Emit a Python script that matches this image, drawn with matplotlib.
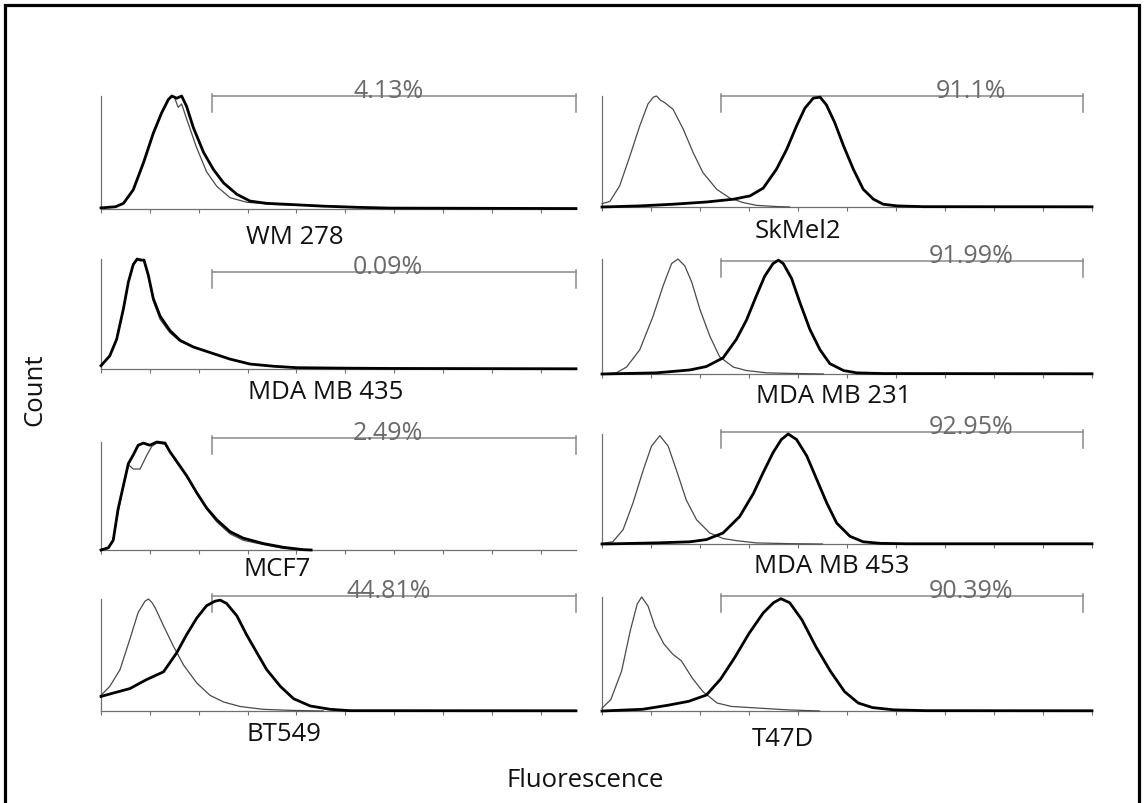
import matplotlib
matplotlib.use("Agg")
import matplotlib.pyplot as plt
from matplotlib.patches import Rectangle

plt.rcParams['font.family'] = ['Open Sans', 'DejaVu Sans']

W, H = 1144, 804

# cell lines, gate percentages
lines_left = ["WM 278", "MDA MB 435", "MCF7", "BT549"]
lines_right = ["SkMel2", "MDA MB 231", "MDA MB 453", "T47D"]
pct_left = ["4.13%", "0.09%", "2.49%", "44.81%"]
pct_right = ["91.1%", "91.99%", "92.95%", "90.39%"]

# histograms: fluorescence (decade ticks) vs normalised count
# thin = isotype control, thick = stained
wm278_x_ctrl = [0, 0.30, 0.46, 0.66, 0.87, 1.07, 1.24, 1.38, 1.45, 1.50, 1.58, 1.65, 1.75, 1.95, 2.16, 2.37, 2.64, 2.98, 3.53, 4.55, 5.24, 5.92, 9.72]
wm278_ctrl = [0.01, 0.02, 0.05, 0.17, 0.42, 0.68, 0.86, 0.97, 0.99, 0.99, 0.90, 0.93, 0.80, 0.55, 0.33, 0.20, 0.10, 0.06, 0.04, 0.03, 0.015, 0.008, 0.004]
wm278_x_stain = [0, 0.30, 0.46, 0.66, 0.87, 1.07, 1.24, 1.38, 1.45, 1.55, 1.65, 1.75, 1.89, 2.10, 2.30, 2.51, 2.78, 3.05, 3.39, 3.87, 4.55, 5.24, 5.92, 9.72]
wm278_stain = [0.01, 0.02, 0.05, 0.17, 0.41, 0.67, 0.85, 0.97, 1.0, 0.98, 1.0, 0.91, 0.72, 0.50, 0.35, 0.23, 0.13, 0.07, 0.05, 0.04, 0.025, 0.015, 0.008, 0.004]

mb435_x = [0, 0.18, 0.32, 0.46, 0.56, 0.66, 0.74, 0.81, 0.88, 0.97, 1.07, 1.21, 1.41, 1.62, 1.89, 2.23, 2.64, 3.05, 3.53, 4.01, 4.89, 5.92, 9.72]
mb435_ctrl = [0.03, 0.12, 0.27, 0.55, 0.79, 0.95, 0.99, 1.0, 0.98, 0.84, 0.62, 0.45, 0.33, 0.25, 0.20, 0.15, 0.09, 0.045, 0.025, 0.012, 0.008, 0.005, 0.002]
mb435_stain = [0.03, 0.12, 0.27, 0.55, 0.79, 0.95, 1.0, 0.99, 0.99, 0.85, 0.64, 0.48, 0.35, 0.26, 0.20, 0.15, 0.09, 0.045, 0.025, 0.012, 0.008, 0.005, 0.002]

mcf7_x_ctrl = [0, 0.15, 0.25, 0.35, 0.46, 0.56, 0.66, 0.80, 0.94, 1.04, 1.14, 1.31, 1.41, 1.55, 1.75, 1.96, 2.16, 2.37, 2.64, 2.91, 3.32, 3.73, 4.14]
mcf7_ctrl = [0, 0.02, 0.09, 0.35, 0.60, 0.79, 0.75, 0.75, 0.88, 0.96, 0.99, 0.98, 0.91, 0.81, 0.68, 0.52, 0.38, 0.26, 0.15, 0.09, 0.05, 0.015, 0]
mcf7_x_stain = [0, 0.15, 0.25, 0.35, 0.46, 0.56, 0.66, 0.76, 0.87, 1.00, 1.14, 1.31, 1.41, 1.55, 1.75, 1.96, 2.16, 2.37, 2.64, 2.91, 3.32, 3.73, 4.14, 4.30]
mcf7_stain = [0, 0.02, 0.09, 0.38, 0.60, 0.80, 0.88, 0.97, 0.99, 0.97, 1.0, 0.99, 0.91, 0.82, 0.69, 0.53, 0.39, 0.28, 0.17, 0.11, 0.06, 0.025, 0.003, 0]

bt549_x_ctrl = [0, 0.18, 0.39, 0.59, 0.76, 0.90, 0.97, 1.04, 1.11, 1.28, 1.48, 1.69, 1.96, 2.23, 2.51, 2.85, 3.32, 3.87, 4.55]
bt549_ctrl = [0.14, 0.22, 0.37, 0.64, 0.88, 0.98, 1.0, 0.97, 0.92, 0.76, 0.58, 0.41, 0.25, 0.14, 0.08, 0.04, 0.015, 0.006, 0]
bt549_x_stain = [0, 0.25, 0.59, 0.93, 1.28, 1.55, 1.75, 1.96, 2.16, 2.33, 2.44, 2.57, 2.78, 2.98, 3.19, 3.39, 3.67, 3.94, 4.28, 4.69, 5.10, 9.72]
bt549_stain = [0.13, 0.16, 0.20, 0.28, 0.35, 0.52, 0.68, 0.83, 0.94, 0.98, 0.99, 0.96, 0.85, 0.68, 0.52, 0.37, 0.22, 0.11, 0.045, 0.015, 0.003, 0.002]

skmel2_x_ctrl = [0, 0.16, 0.36, 0.57, 0.77, 0.94, 1.05, 1.11, 1.20, 1.28, 1.45, 1.66, 1.86, 2.06, 2.34, 2.61, 2.88, 3.15, 3.56, 3.83]
skmel2_ctrl = [0.03, 0.05, 0.19, 0.46, 0.73, 0.93, 0.99, 1.0, 0.96, 0.94, 0.88, 0.70, 0.49, 0.31, 0.16, 0.08, 0.04, 0.015, 0.004, 0]
skmel2_x_stain = [0, 0.77, 1.45, 2.13, 2.68, 3.02, 3.29, 3.56, 3.77, 3.97, 4.14, 4.31, 4.45, 4.58, 4.75, 4.93, 5.13, 5.33, 5.54, 5.74, 6.02, 6.56, 10]
skmel2_stain = [0, 0.01, 0.025, 0.045, 0.07, 0.10, 0.17, 0.34, 0.52, 0.73, 0.89, 0.98, 0.99, 0.92, 0.76, 0.55, 0.34, 0.16, 0.07, 0.025, 0.01, 0.003, 0.002]

mb231_x_ctrl = [0, 0.29, 0.50, 0.77, 1.04, 1.25, 1.42, 1.55, 1.69, 1.83, 2.00, 2.20, 2.40, 2.68, 2.95, 3.36, 3.84, 4.52]
mb231_ctrl = [0, 0.01, 0.06, 0.21, 0.50, 0.77, 0.96, 1.0, 0.94, 0.80, 0.56, 0.33, 0.15, 0.06, 0.03, 0.01, 0.005, 0]
mb231_x_stain = [0, 1.11, 1.79, 2.13, 2.47, 2.74, 2.95, 3.15, 3.32, 3.49, 3.60, 3.70, 3.87, 4.04, 4.24, 4.45, 4.65, 4.93, 5.20, 5.74, 10]
mb231_stain = [0, 0.01, 0.035, 0.065, 0.14, 0.30, 0.47, 0.68, 0.85, 0.96, 0.99, 0.96, 0.83, 0.62, 0.39, 0.21, 0.09, 0.03, 0.01, 0.004, 0.002]

mb453_x_ctrl = [0, 0.22, 0.43, 0.63, 0.84, 1.01, 1.18, 1.35, 1.52, 1.72, 1.93, 2.20, 2.47, 2.75, 3.15, 3.84, 4.50]
mb453_ctrl = [0.005, 0.02, 0.13, 0.37, 0.67, 0.89, 0.985, 0.89, 0.67, 0.40, 0.22, 0.10, 0.05, 0.03, 0.01, 0.003, 0]
mb453_x_stain = [0, 1.11, 1.79, 2.13, 2.47, 2.81, 3.09, 3.29, 3.49, 3.66, 3.80, 3.97, 4.18, 4.38, 4.59, 4.79, 5.06, 5.33, 5.68, 6.22, 10]
mb453_stain = [0, 0.01, 0.02, 0.04, 0.10, 0.25, 0.46, 0.65, 0.83, 0.95, 1.0, 0.95, 0.80, 0.59, 0.37, 0.19, 0.07, 0.02, 0.006, 0.002, 0.002]

t47d_x_ctrl = [0, 0.18, 0.40, 0.58, 0.72, 0.81, 0.94, 1.08, 1.26, 1.44, 1.62, 1.84, 2.06, 2.35, 2.64, 3.21, 3.79, 4.44]
t47d_ctrl = [0.025, 0.10, 0.35, 0.71, 0.94, 1.0, 0.92, 0.74, 0.59, 0.50, 0.44, 0.29, 0.17, 0.07, 0.04, 0.025, 0.01, 0]
t47d_x_stain = [0, 0.83, 1.34, 1.77, 2.13, 2.42, 2.71, 3.00, 3.29, 3.50, 3.65, 3.83, 4.08, 4.37, 4.66, 4.95, 5.23, 5.52, 5.96, 6.61, 10]
t47d_stain = [0, 0.015, 0.05, 0.085, 0.14, 0.28, 0.47, 0.68, 0.86, 0.95, 0.985, 0.95, 0.80, 0.56, 0.35, 0.17, 0.07, 0.03, 0.01, 0.003, 0.002]

left_data = [
    (wm278_x_ctrl, wm278_ctrl, wm278_x_stain, wm278_stain),
    (mb435_x, mb435_ctrl, mb435_x, mb435_stain),
    (mcf7_x_ctrl, mcf7_ctrl, mcf7_x_stain, mcf7_stain),
    (bt549_x_ctrl, bt549_ctrl, bt549_x_stain, bt549_stain),
]
right_data = [
    (skmel2_x_ctrl, skmel2_ctrl, skmel2_x_stain, skmel2_stain),
    (mb231_x_ctrl, mb231_ctrl, mb231_x_stain, mb231_stain),
    (mb453_x_ctrl, mb453_ctrl, mb453_x_stain, mb453_stain),
    (t47d_x_ctrl, t47d_ctrl, t47d_x_stain, t47d_stain),
]

# layout in pixels: (axis top, axis baseline, gate y, name centre y)
left_rows = [(97, 210, 97, 237), (260, 370, 273, 393), (443, 551, 439, 569), (600, 712, 597, 735)]
right_rows = [(97, 208, 97, 232), (260, 375, 262, 397), (435, 545, 433, 567), (598, 712, 597, 740)]
left_cols = dict(x0=101, x1=576, xmax=9.72, gate=(2.27, 9.71), pct_x=5.88)
right_cols = dict(x0=602, x1=1092, xmax=10.0, gate=(2.43, 9.82), pct_x=7.53)
left_name_x = [295, 326, 277, 284]
right_name_x = [798, 834, 832, 783]

axis_grey = "#707070"
gate_grey = "#8a8a8a"
text_grey = "#6a6a6a"

fig = plt.figure(figsize=(W / 100, H / 100), dpi=100)
fig.patch.set_facecolor("white")


def panel(col, row, data, pct):
    top, base, gate_y, _ = row
    ax = fig.add_axes([col["x0"] / W, 1 - base / H,
                       (col["x1"] - col["x0"]) / W, (base - top) / H])
    xc, yc, xs, ys = data
    ax.plot(xc, yc, color="#4a4a4a", lw=0.9, clip_on=False, zorder=3)
    ax.plot(xs, ys, color="black", lw=2.0, clip_on=False, zorder=4)
    ax.set_xlim(0, col["xmax"])
    ax.set_ylim(0, 1.0)
    for s in ["top", "right"]:
        ax.spines[s].set_visible(False)
    for s in ["left", "bottom"]:
        ax.spines[s].set_color(axis_grey)
        ax.spines[s].set_linewidth(0.9)
    ax.set_xticks(range(int(col["xmax"]) + 1))
    ax.set_yticks([])
    ax.tick_params(axis="x", direction="out", length=3, width=0.8,
                   color=axis_grey, labelbottom=False)
    ax.patch.set_alpha(0)

    # gate marker with its percentage
    h = base - top
    gy = (base - gate_y) / h
    g0, g1 = col["gate"]
    ax.plot([g0, g1], [gy, gy], color=gate_grey, lw=1.1, clip_on=False)
    for gx in (g0, g1):
        ax.plot([gx, gx], [gy + 2 / h, gy - 16 / h], color=gate_grey, lw=1.1, clip_on=False)
    ax.text(col["pct_x"], gy - 1 / h, pct, ha="center", va="baseline",
            fontsize=18, color=text_grey)
    return ax


for i in range(4):
    panel(left_cols, left_rows[i], left_data[i], pct_left[i])
    fig.text(left_name_x[i] / W, 1 - left_rows[i][3] / H, lines_left[i],
             ha="center", va="center", fontsize=18.5, color="#111111")
    panel(right_cols, right_rows[i], right_data[i], pct_right[i])
    fig.text(right_name_x[i] / W, 1 - right_rows[i][3] / H, lines_right[i],
             ha="center", va="center", fontsize=18.5, color="#111111")

fig.text(35 / W, 1 - 390 / H, "Count", rotation=90, ha="center", va="center",
         fontsize=18.5, color="#111111")
fig.text(585 / W, 1 - 781 / H, "Fluorescence", ha="center", va="center",
         fontsize=18.5, color="#111111")

# frame around the figure (bottom edge runs off the canvas)
fig.add_artist(Rectangle((5 / W, -0.05), 1134 / W, 1.05 - 6 / H, fill=False,
                         lw=2.3, edgecolor="black", transform=fig.transFigure))

fig.savefig("out.png", dpi=100, facecolor="white")
